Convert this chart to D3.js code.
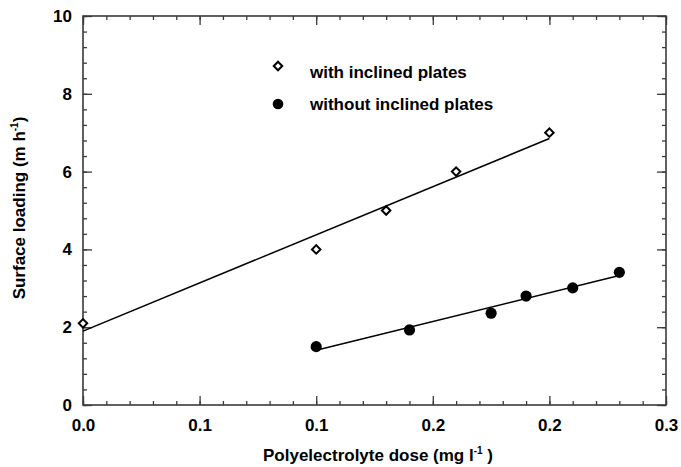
<!DOCTYPE html>
<html>
<head>
<meta charset="utf-8">
<script src="https://cdn.jsdelivr.net/npm/d3@7"></script>
<style>
  html, body { margin: 0; padding: 0; background: #fff; }
  svg { display: block; font-family: "Liberation Sans", Arial, Helvetica, sans-serif; }
</style>
</head>
<body>
<svg id="chart" width="681" height="467"></svg>
<script>
// ---- data ----
const withDose = [0.0, 0.12, 0.156, 0.192, 0.24];
const withLoad = [2.1, 4.0, 5.0, 6.0, 7.0];
const withoutDose = [0.12, 0.168, 0.21, 0.228, 0.252, 0.276];
const withoutLoad = [1.5, 1.93, 2.36, 2.8, 3.01, 3.41];
const xTickValues = [0, 0.06, 0.12, 0.18, 0.24, 0.3];
const xTickLabels = ["0.0", "0.1", "0.1", "0.2", "0.2", "0.3"];
const yTickValues = [0, 2, 4, 6, 8, 10];
const yTickLabels = ["0", "2", "4", "6", "8", "10"];
const seriesNames = ["with inclined plates", "without inclined plates"];

// ---- layout ----
const svg = d3.select("#chart");
const L = 83, R = 666, T = 16, B = 405;
const x = d3.scaleLinear().domain([0, 0.3]).range([L, R]);
const y = d3.scaleLinear().domain([0, 10]).range([B, T]);
const axisColor = "#3a3a3a";

// minor ticks
const xMinor = d3.range(0, 0.3001, 0.012);
const yMinor = d3.range(0, 10.001, 0.4);

function styleAxis(g) {
  g.selectAll("path.domain").remove();
  g.selectAll(".tick line").attr("stroke", axisColor).attr("stroke-width", 1.3);
  g.selectAll("text").attr("font-size", 17).attr("font-weight", "bold").attr("fill", "#000");
}

// minor ticks (all four sides)
svg.append("g").attr("transform", `translate(0,${B})`)
  .call(d3.axisBottom(x).tickValues(xMinor).tickSize(-4).tickFormat(""))
  .call(styleAxis);
svg.append("g").attr("transform", `translate(0,${T})`)
  .call(d3.axisTop(x).tickValues(xMinor).tickSize(-4).tickFormat(""))
  .call(styleAxis);
svg.append("g").attr("transform", `translate(${L},0)`)
  .call(d3.axisLeft(y).tickValues(yMinor).tickSize(-4).tickFormat(""))
  .call(styleAxis);
svg.append("g").attr("transform", `translate(${R},0)`)
  .call(d3.axisRight(y).tickValues(yMinor).tickSize(-4).tickFormat(""))
  .call(styleAxis);

// major ticks
svg.append("g").attr("transform", `translate(0,${B})`)
  .call(d3.axisBottom(x).tickValues(xTickValues).tickSizeInner(-9).tickSizeOuter(0)
    .tickPadding(14).tickFormat((d, i) => xTickLabels[i]))
  .call(styleAxis);
svg.append("g").attr("transform", `translate(0,${T})`)
  .call(d3.axisTop(x).tickValues(xTickValues).tickSizeInner(-9).tickSizeOuter(0).tickFormat(""))
  .call(styleAxis);
svg.append("g").attr("transform", `translate(${L},0)`)
  .call(d3.axisLeft(y).tickValues(yTickValues).tickSizeInner(-9).tickSizeOuter(0)
    .tickPadding(11).tickFormat((d, i) => yTickLabels[i]))
  .call(styleAxis);
svg.append("g").attr("transform", `translate(${R},0)`)
  .call(d3.axisRight(y).tickValues(yTickValues).tickSizeInner(-9).tickSizeOuter(0).tickFormat(""))
  .call(styleAxis);

// frame
svg.append("rect").attr("x", L).attr("y", T).attr("width", R - L).attr("height", B - T)
  .attr("fill", "none").attr("stroke", axisColor).attr("stroke-width", 1.6);

// regression lines
function fit(xs, ys) {
  const mx = d3.mean(xs), my = d3.mean(ys);
  let sxy = 0, sxx = 0;
  xs.forEach((v, i) => { sxy += (v - mx) * (ys[i] - my); sxx += (v - mx) * (v - mx); });
  const b = sxy / sxx;
  return { b, a: my - b * mx };
}
const line = d3.line().x(d => x(d[0])).y(d => y(d[1]));
[[withDose, withLoad], [withoutDose, withoutLoad]].forEach(([xs, ys]) => {
  const f = fit(xs, ys);
  const x0 = d3.min(xs), x1 = d3.max(xs);
  svg.append("path")
    .attr("d", line([[x0, f.a + f.b * x0], [x1, f.a + f.b * x1]]))
    .attr("fill", "none").attr("stroke", "#000").attr("stroke-width", 1.5);
});

// markers
function drawDiamond(sel) {
  sel.append("rect").attr("x", -3).attr("y", -3).attr("width", 6).attr("height", 6)
    .attr("transform", "rotate(45)")
    .attr("fill", "#fff").attr("stroke", "#000").attr("stroke-width", 2);
}
withDose.forEach((d, i) => {
  svg.append("g").attr("transform", `translate(${x(d)},${y(withLoad[i])})`).call(drawDiamond);
});
svg.selectAll("circle.pt").data(withoutDose).join("circle").attr("class", "pt")
  .attr("cx", d => x(d)).attr("cy", (d, i) => y(withoutLoad[i])).attr("r", 5.6).attr("fill", "#000");

// legend
svg.append("g").attr("transform", "translate(278,66)").call(drawDiamond);
svg.append("circle").attr("cx", 278).attr("cy", 104).attr("r", 5.3).attr("fill", "#000");
svg.append("text").attr("x", 310).attr("y", 78).attr("font-size", 17).attr("font-weight", "bold").text(seriesNames[0]);
svg.append("text").attr("x", 310).attr("y", 110).attr("font-size", 17).attr("font-weight", "bold").text(seriesNames[1]);

// axis titles
const xt = svg.append("text").attr("x", 378).attr("y", 461).attr("text-anchor", "middle")
  .attr("font-size", 17).attr("font-weight", "bold");
xt.append("tspan").text("Polyelectrolyte dose (mg l");
xt.append("tspan").attr("dy", -7).attr("font-size", 10).text("-1");
xt.append("tspan").attr("dy", 7).text(" )");

const yt = svg.append("text").attr("transform", "translate(25,208) rotate(-90)")
  .attr("text-anchor", "middle").attr("font-size", 17).attr("font-weight", "bold");
yt.append("tspan").text("Surface loading (m h");
yt.append("tspan").attr("dy", -7).attr("font-size", 10).text("-1");
yt.append("tspan").attr("dy", 7).text(")");
</script>
</body>
</html>
